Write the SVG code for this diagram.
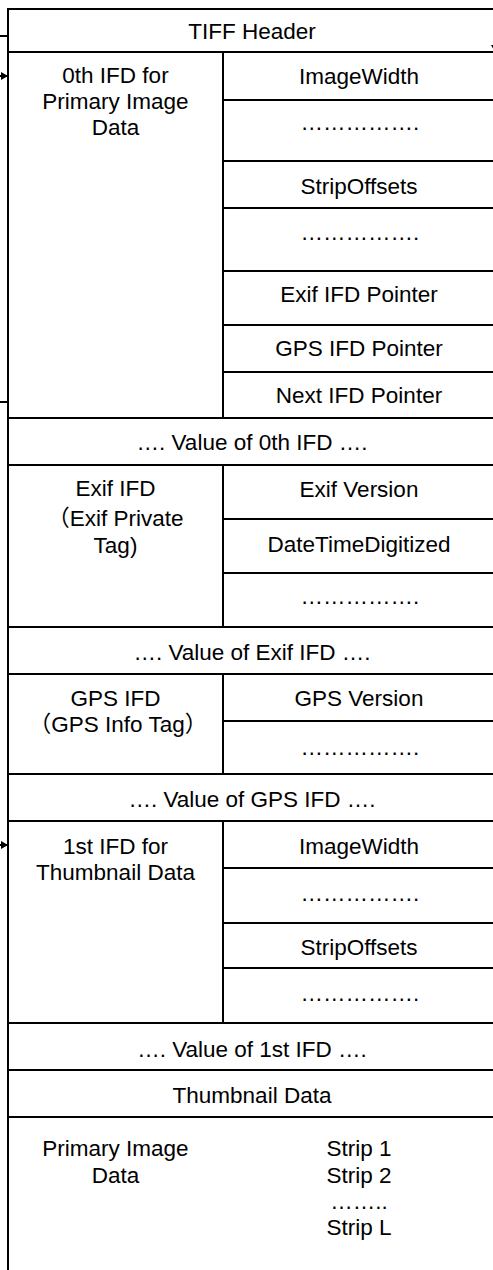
<svg xmlns="http://www.w3.org/2000/svg" width="493" height="1270" viewBox="0 0 493 1270">
<style>
.cell{fill:#fff;stroke:#000;stroke-width:2}
.t{font-family:"Liberation Sans",Arial,"Noto Sans CJK SC",sans-serif;font-size:22.5px;fill:#000;text-anchor:middle}
.c{fill:none;stroke:#000;stroke-width:2}
</style>
<defs>
<marker id="ah" markerUnits="userSpaceOnUse" markerWidth="8" markerHeight="10" refX="7" refY="5" orient="auto">
<path d="M0,1 L7,5 L0,9 Z" fill="#000"/>
</marker>
</defs>
<rect width="493" height="1270" fill="#fff"/>

<g id="tiff-header">
<rect class="cell" x="8" y="9" width="488" height="43"/>
<text class="t" x="252" y="39">TIFF Header</text>
</g>

<g id="ifd0">
<rect class="cell" x="8" y="52" width="215" height="366"/>
<text class="t" x="115.5" y="83">0th IFD for</text>
<text class="t" x="115.5" y="109">Primary Image</text>
<text class="t" x="115.5" y="135">Data</text>
<g id="ifd0-imagewidth"><rect class="cell" x="223" y="52" width="273" height="48"/><text class="t" x="359" y="84">ImageWidth</text></g>
<g id="ifd0-dots1"><rect class="cell" x="223" y="100" width="273" height="61"/><text class="t" x="360" y="130">…………….</text></g>
<g id="ifd0-stripoffsets"><rect class="cell" x="223" y="161" width="273" height="47"/><text class="t" x="359" y="194">StripOffsets</text></g>
<g id="ifd0-dots2"><rect class="cell" x="223" y="208" width="273" height="63"/><text class="t" x="360" y="240">…………….</text></g>
<g id="ifd0-exifptr"><rect class="cell" x="223" y="271" width="273" height="54"/><text class="t" x="359" y="302">Exif IFD Pointer</text></g>
<g id="ifd0-gpsptr"><rect class="cell" x="223" y="325" width="273" height="47"/><text class="t" x="359" y="356">GPS IFD Pointer</text></g>
<g id="ifd0-nextptr"><rect class="cell" x="223" y="372" width="273" height="46"/><text class="t" x="359" y="403">Next IFD Pointer</text></g>
</g>

<g id="value-ifd0">
<rect class="cell" x="8" y="418" width="488" height="47"/>
<text class="t" x="252" y="450">…. Value of 0th IFD ….</text>
</g>

<g id="exif-ifd">
<rect class="cell" x="8" y="465" width="215" height="162"/>
<text class="t" x="115.5" y="496">Exif IFD</text>
<text class="t" x="115.5" y="526">（Exif Private</text>
<text class="t" x="115.5" y="553">Tag)</text>
<g id="exif-version"><rect class="cell" x="223" y="465" width="273" height="54"/><text class="t" x="359" y="497">Exif Version</text></g>
<g id="exif-datetime"><rect class="cell" x="223" y="519" width="273" height="54"/><text class="t" x="359" y="552">DateTimeDigitized</text></g>
<g id="exif-dots"><rect class="cell" x="223" y="573" width="273" height="54"/><text class="t" x="360" y="604">…………….</text></g>
</g>

<g id="value-exif">
<rect class="cell" x="8" y="627" width="488" height="47"/>
<text class="t" x="252" y="660">…. Value of Exif IFD ….</text>
</g>

<g id="gps-ifd">
<rect class="cell" x="8" y="674" width="215" height="100"/>
<text class="t" x="115.5" y="706">GPS IFD</text>
<text class="t" x="118" y="732">（GPS Info Tag）</text>
<g id="gps-version"><rect class="cell" x="223" y="674" width="273" height="47"/><text class="t" x="359" y="706">GPS Version</text></g>
<g id="gps-dots"><rect class="cell" x="223" y="721" width="273" height="53"/><text class="t" x="360" y="755">…………….</text></g>
</g>

<g id="value-gps">
<rect class="cell" x="8" y="774" width="488" height="47"/>
<text class="t" x="252" y="807">…. Value of GPS IFD ….</text>
</g>

<g id="ifd1">
<rect class="cell" x="8" y="821" width="215" height="202"/>
<text class="t" x="115.5" y="854">1st IFD for</text>
<text class="t" x="115.5" y="880">Thumbnail Data</text>
<g id="ifd1-imagewidth"><rect class="cell" x="223" y="821" width="273" height="47"/><text class="t" x="359" y="854">ImageWidth</text></g>
<g id="ifd1-dots1"><rect class="cell" x="223" y="868" width="273" height="55"/><text class="t" x="360" y="901">…………….</text></g>
<g id="ifd1-stripoffsets"><rect class="cell" x="223" y="923" width="273" height="45"/><text class="t" x="359" y="955">StripOffsets</text></g>
<g id="ifd1-dots2"><rect class="cell" x="223" y="968" width="273" height="55"/><text class="t" x="360" y="1001">…………….</text></g>
</g>

<g id="value-ifd1">
<rect class="cell" x="8" y="1023" width="488" height="47"/>
<text class="t" x="252" y="1057">…. Value of 1st IFD ….</text>
</g>

<g id="thumbnail-data">
<rect class="cell" x="8" y="1070" width="488" height="47"/>
<text class="t" x="252" y="1103">Thumbnail Data</text>
</g>

<g id="primary-image-data">
<rect class="cell" x="8" y="1117" width="488" height="170"/>
<text class="t" x="115.5" y="1156">Primary Image</text>
<text class="t" x="115.5" y="1183">Data</text>
<text class="t" x="359" y="1156">Strip 1</text>
<text class="t" x="359" y="1183">Strip 2</text>
<text class="t" x="359" y="1209">……..</text>
<text class="t" x="359" y="1235">Strip L</text>
</g>

<g id="connectors">
<line class="c" x1="0" y1="36" x2="8" y2="36"/>
<line class="c" x1="0" y1="76" x2="8" y2="76" marker-end="url(#ah)"/>
<line class="c" x1="0" y1="402" x2="8" y2="402"/>
<line class="c" x1="0" y1="845" x2="8" y2="845" marker-end="url(#ah)"/>
<line class="c" x1="495" y1="0" x2="495" y2="52" marker-end="url(#ah)"/>
</g>
</svg>
